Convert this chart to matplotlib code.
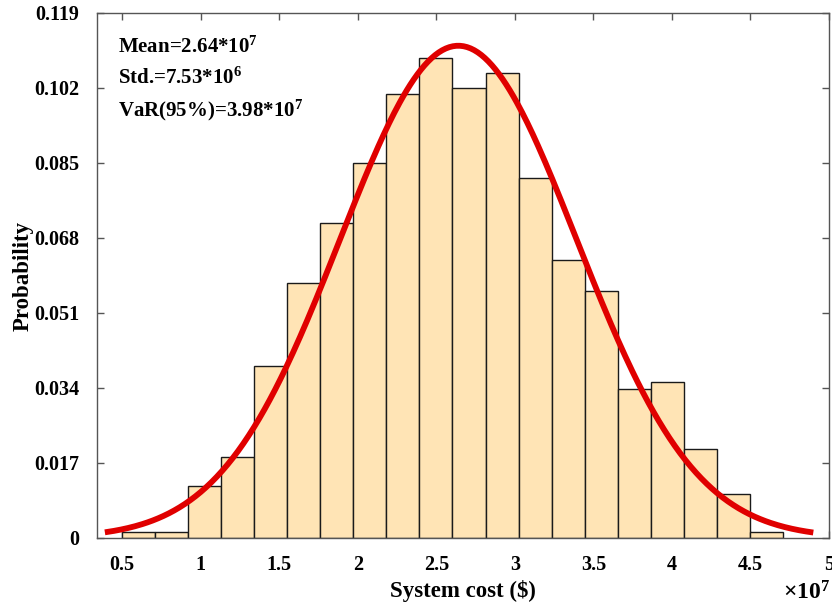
#!/usr/bin/env python3
"""Histogram of system cost with fitted normal curve."""

import matplotlib
matplotlib.use("Agg")
import matplotlib.pyplot as plt
import numpy as np

# values in units of 1e7 $
bin_left = 0.497
bin_width = 0.2106
probabilities = [0.0013, 0.0013, 0.0118, 0.0184, 0.0390, 0.0577, 0.0713,
                 0.0849, 0.1006, 0.1089, 0.1019, 0.1055, 0.0817, 0.0629,
                 0.0560, 0.0337, 0.0354, 0.0201, 0.0100, 0.0013]
mean_cost = 2.64
std_cost = 0.753
curve_range = (0.39, 4.90)

x_ticks = [0.5, 1, 1.5, 2, 2.5, 3, 3.5, 4, 4.5, 5]
x_tick_labels = ["0.5", "1", "1.5", "2", "2.5", "3", "3.5", "4", "4.5", "5"]
y_ticks = [0, 0.017, 0.034, 0.051, 0.068, 0.085, 0.102, 0.119]
y_tick_labels = ["0", "0.017", "0.034", "0.051", "0.068", "0.085", "0.102", "0.119"]

plt.rcParams["font.family"] = ["Liberation Serif", "DejaVu Serif"]
plt.rcParams["font.weight"] = "bold"
plt.rcParams["mathtext.fontset"] = "custom"
plt.rcParams["mathtext.rm"] = "Liberation Serif:bold"
plt.rcParams["mathtext.it"] = "Liberation Serif:bold"
plt.rcParams["mathtext.bf"] = "Liberation Serif:bold"

fig = plt.figure(figsize=(8.32, 6.07), dpi=100)
ax = fig.add_axes([0.1166, 0.1137, 0.8798, 0.8649])

lefts = bin_left + bin_width * np.arange(len(probabilities))
ax.bar(lefts, probabilities, width=bin_width, align="edge",
       color="#FFE4B5", edgecolor="#1a1a1a", linewidth=1.0, zorder=2)

xs = np.linspace(curve_range[0], curve_range[1], 400)
pdf = bin_width * np.exp(-0.5 * ((xs - mean_cost) / std_cost) ** 2) / (std_cost * np.sqrt(2 * np.pi))
ax.plot(xs, pdf, color="#e00000", linewidth=4.2, zorder=3, solid_capstyle="butt")

ax.set_xlim(0.34, 5.0)
ax.set_ylim(0, 0.119)
ax.tick_params(axis="both", direction="in", length=5, width=1, color="#555555",
               top=True, right=True)
ax.tick_params(axis="x", pad=12)
ax.tick_params(axis="y", pad=13)
ax.set_xticks(x_ticks)
ax.set_xticklabels(x_tick_labels, fontsize=14.5, fontweight="bold")
ax.set_yticks(y_ticks)
ax.set_yticklabels(y_tick_labels, fontsize=14.5, fontweight="bold")
for spine in ax.spines.values():
    spine.set_color("#555555")
    spine.set_linewidth(1.0)

ax.set_xlabel("System cost ($)", fontsize=16.5, fontweight="bold")
ax.set_ylabel("Probability", fontsize=16.5, fontweight="bold")
ax.xaxis.set_label_coords(0.5, -0.08)
ax.yaxis.set_label_coords(-0.087, 0.5)
fig.text(0.998, 0.004, r"$\times10^{7}$", ha="right", va="bottom", fontsize=17)

notes = ["Mean=2.64*10$^{7}$", "Std.=7.53*10$^{6}$", "VaR(95%)=3.98*10$^{7}$"]
for i, note in enumerate(notes):
    ax.text(0.029, 0.935 - 0.06 * i, note, transform=ax.transAxes,
            ha="left", va="center", fontsize=15, fontweight="bold", zorder=4)

fig.savefig("out.png", dpi=100)
